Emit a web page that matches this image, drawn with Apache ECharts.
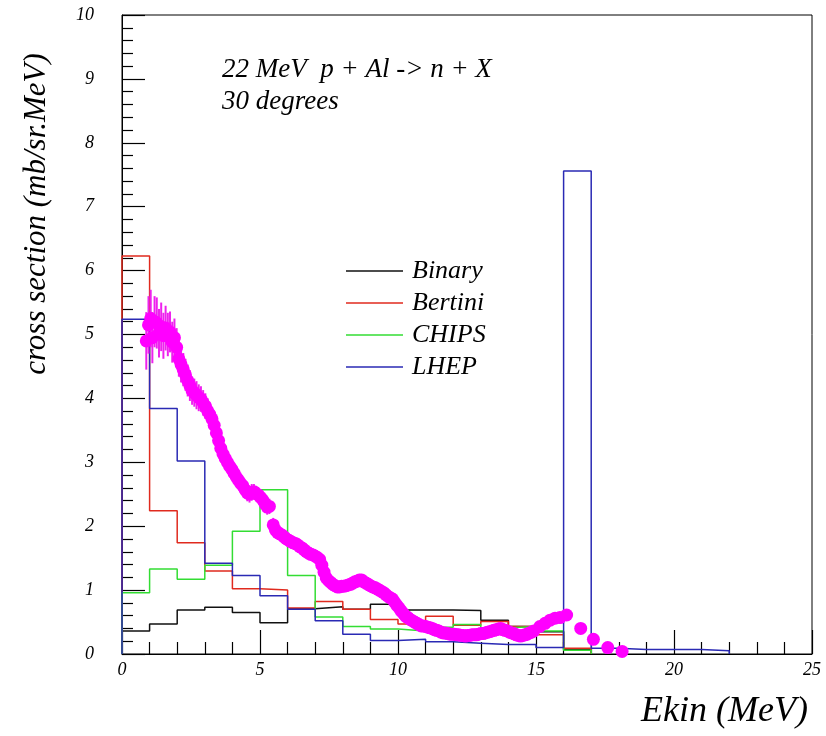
<!DOCTYPE html>
<html>
<head>
<meta charset="utf-8">
<title>22 MeV p + Al -> n + X, 30 degrees</title>
<script src="https://cdn.jsdelivr.net/npm/echarts@6/dist/echarts.min.js"></script>
<style>
  html, body { margin: 0; padding: 0; background: #ffffff; }
  #chart { width: 826px; height: 736px; }
</style>
</head>
<body>
<div id="chart"></div>
<script>
// Model histograms: 1 MeV bins starting at 0 MeV (mb/sr.MeV)
const binWidth = 1;
const binary  = [0.36, 0.47, 0.69, 0.73, 0.65, 0.49, 0.71, 0.74, 0.70, 0.78, 0.69, 0.69, 0.68, 0.53, 0.43, 0.35, 0.07];
const bertini = [6.23, 2.24, 1.74, 1.30, 1.02, 1.00, 0.72, 0.82, 0.70, 0.54, 0.47, 0.59, 0.45, 0.51, 0.43, 0.30, 0.09];
const chips   = [0.96, 1.33, 1.17, 1.39, 1.92, 2.57, 1.23, 0.58, 0.43, 0.39, 0.36, 0.42, 0.46, 0.41, 0.43, 0.36, 0.06];
const lhep    = [5.24, 3.84, 3.02, 1.42, 1.23, 0.91, 0.70, 0.52, 0.31, 0.21, 0.23, 0.19, 0.17, 0.15, 0.15, 0.10, 7.56, 0.09, 0.07, 0.07, 0.07, 0.05];

// Measured spectrum: energy (MeV), cross section, error
const expE = [
  0.88, 0.96, 1.04, 1.10, 1.18, 1.26, 1.34, 1.42, 1.50, 1.58, 1.66, 1.74, 1.82, 1.90, 1.98,
  2.06, 2.14, 2.22, 2.30, 2.38, 2.46, 2.54, 2.62, 2.70, 2.78, 2.86, 2.94,
  3.02, 3.10, 3.18, 3.26, 3.34, 3.42, 3.50, 3.58, 3.66, 3.74, 3.82, 3.90, 3.98,
  4.06, 4.14, 4.22, 4.30, 4.38, 4.46, 4.54, 4.62, 4.70, 4.78, 4.86, 4.94,
  5.02, 5.10, 5.18, 5.26, 5.34, 5.48, 5.56, 5.64, 5.72, 5.80, 5.88, 5.96,
  6.04, 6.12, 6.20, 6.28, 6.36, 6.44, 6.52, 6.60, 6.68, 6.76, 6.84, 6.92,
  7.00, 7.08, 7.16, 7.24, 7.32, 7.40, 7.48, 7.56, 7.64, 7.72, 7.80, 7.88, 7.96,
  8.04, 8.12, 8.20, 8.28, 8.36, 8.44, 8.52, 8.60, 8.68, 8.76, 8.84, 8.92,
  9.00, 9.08, 9.16, 9.24, 9.32, 9.40, 9.48, 9.56, 9.64, 9.72, 9.80, 9.88, 9.96,
  10.04, 10.12, 10.20, 10.28, 10.36, 10.44, 10.52, 10.60, 10.68, 10.76, 10.84, 10.92,
  11.00, 11.08, 11.16, 11.24, 11.32, 11.40, 11.48, 11.56, 11.64, 11.72, 11.80, 11.88, 11.96,
  12.04, 12.12, 12.20, 12.28, 12.36, 12.44, 12.52, 12.60, 12.68, 12.76, 12.84, 12.92,
  13.00, 13.08, 13.16, 13.24, 13.32, 13.40, 13.48, 13.56, 13.64, 13.72, 13.80, 13.88, 13.96,
  14.04, 14.12, 14.20, 14.28, 14.36, 14.44, 14.52, 14.60, 14.68, 14.76, 14.84, 14.92,
  15.14, 15.33, 15.51, 15.69, 15.87, 16.11, 16.62, 17.08, 17.60, 18.12
];
const expY = [
  4.90, 5.15, 5.25, 4.95, 5.20, 5.18, 5.02, 5.12, 4.98, 5.10, 5.00, 5.04, 4.88, 4.95, 4.80,
  4.62, 4.53, 4.45, 4.37, 4.28, 4.20, 4.12, 4.09, 4.05, 4.01, 3.99, 3.93,
  3.88, 3.81, 3.75, 3.68, 3.58, 3.46, 3.34, 3.22, 3.13, 3.06, 3.00, 2.94, 2.89,
  2.83, 2.77, 2.72, 2.67, 2.63, 2.57, 2.52, 2.50, 2.53, 2.54, 2.51, 2.49,
  2.45, 2.41, 2.35, 2.30, 2.31, 2.02, 1.94, 1.90, 1.88, 1.86, 1.83, 1.80,
  1.78, 1.76, 1.74, 1.73, 1.71, 1.68, 1.66, 1.63, 1.60, 1.58, 1.56, 1.55,
  1.53, 1.51, 1.48, 1.39, 1.28, 1.19, 1.15, 1.12, 1.09, 1.07, 1.05, 1.05, 1.06,
  1.06, 1.07, 1.08, 1.09, 1.11, 1.13, 1.14, 1.16, 1.16, 1.13, 1.11, 1.09,
  1.07, 1.05, 1.04, 1.02, 1.00, 0.98, 0.96, 0.93, 0.90, 0.88, 0.86, 0.81, 0.76,
  0.72, 0.67, 0.63, 0.59, 0.57, 0.54, 0.52, 0.50, 0.48, 0.46, 0.44, 0.44,
  0.43, 0.42, 0.41, 0.40, 0.38, 0.37, 0.36, 0.34, 0.33, 0.33, 0.32, 0.31, 0.31,
  0.31, 0.30, 0.30, 0.29, 0.29, 0.28, 0.29, 0.29, 0.30, 0.30, 0.30, 0.31,
  0.32, 0.32, 0.33, 0.34, 0.35, 0.36, 0.37, 0.38, 0.39, 0.40, 0.38, 0.37, 0.36,
  0.34, 0.33, 0.32, 0.30, 0.29, 0.28, 0.29, 0.30, 0.31, 0.33, 0.34, 0.36,
  0.43, 0.48, 0.53, 0.56, 0.57, 0.61, 0.40, 0.23, 0.10, 0.04
];
const expErr = [
  0.45, 0.45, 0.45, 0.40, 0.40, 0.40, 0.38, 0.38, 0.36, 0.35, 0.34, 0.32, 0.32, 0.30, 0.30,
  0.28, 0.28, 0.26, 0.25, 0.25, 0.24, 0.22, 0.22, 0.22, 0.21, 0.20, 0.20,
  0.20, 0.19, 0.19, 0.18, 0.18, 0.17, 0.16, 0.16, 0.16, 0.15, 0.15, 0.15, 0.14,
  0.14, 0.14, 0.14, 0.13, 0.13, 0.13, 0.13, 0.13, 0.13, 0.12, 0.12, 0.12,
  0.12, 0.12, 0.12, 0.12, 0.12, 0.11, 0.11, 0.11, 0.10, 0.10, 0.10, 0.10,
  0.10, 0.10, 0.10, 0.09, 0.09, 0.09, 0.09, 0.09, 0.09, 0.08, 0.08, 0.08,
  0.08, 0.08, 0.08, 0.08, 0.07, 0.07, 0.07, 0.07, 0.07, 0.07, 0.07, 0.07, 0.07,
  0.07, 0.07, 0.07, 0.07, 0.06, 0.06, 0.06, 0.06, 0.06, 0.06, 0.06, 0.06,
  0.06, 0.06, 0.06, 0.06, 0.06, 0.06, 0.05, 0.05, 0.05, 0.05, 0.05, 0.05, 0.05,
  0.05, 0.05, 0.05, 0.05, 0.05, 0.05, 0.05, 0.05, 0.05, 0.05, 0.04, 0.04,
  0.04, 0.04, 0.04, 0.04, 0.04, 0.04, 0.04, 0.04, 0.04, 0.04, 0.04, 0.04, 0.04,
  0.04, 0.04, 0.04, 0.04, 0.04, 0.04, 0.04, 0.04, 0.04, 0.04, 0.04, 0.04,
  0.04, 0.04, 0.04, 0.04, 0.04, 0.04, 0.04, 0.04, 0.04, 0.04, 0.04, 0.04, 0.04,
  0.04, 0.04, 0.04, 0.04, 0.04, 0.04, 0.04, 0.04, 0.04, 0.04, 0.04, 0.04,
  0.04, 0.04, 0.04, 0.04, 0.04, 0.04, 0.04, 0.03, 0.03, 0.02
];

const xTicks = { min: 0, max: 25, step: 5 };
const yTicks = { min: 0, max: 10, step: 1 };

const serif = '"Liberation Serif", "DejaVu Serif", serif';

// Histogram outline: baseline -> each bin top -> back to baseline
function histOutline(values) {
  const pts = [[0, 0]];
  values.forEach((v, i) => {
    pts.push([i * binWidth, v]);
    pts.push([(i + 1) * binWidth, v]);
  });
  pts.push([values.length * binWidth, 0]);
  return pts;
}

function histSeries(name, values, color) {
  return {
    name: name,
    type: 'line',
    data: histOutline(values),
    symbol: 'none',
    showSymbol: false,
    lineStyle: { color: color, width: 1.5 },
    itemStyle: { color: color },
    z: 3
  };
}

const points = expE.map((e, i) => [e, expY[i], expErr[i]]);

const chart = echarts.init(document.getElementById('chart'), null, { renderer: 'canvas' });

chart.setOption({
  animation: false,
  backgroundColor: '#ffffff',
  grid: {
    left: 122, right: 14, top: 15, bottom: 82,
    show: true, borderColor: '#000000', borderWidth: 1
  },
  legend: {
    orient: 'vertical',
    left: 341,
    top: 253,
    icon: 'rect',
    itemWidth: 57,
    itemHeight: 1.5,
    itemGap: 6,
    data: ['Binary', 'Bertini', 'CHIPS', 'LHEP'],
    textStyle: {
      fontFamily: serif, fontStyle: 'italic', fontSize: 26, color: '#000',
      lineHeight: 26, padding: [0, 0, 0, 4]
    }
  },
  xAxis: {
    type: 'value',
    min: xTicks.min, max: xTicks.max, interval: xTicks.step,
    axisLine: { show: true, onZero: false, lineStyle: { color: '#000', width: 1 } },
    axisTick: { show: true, inside: true, length: 24, lineStyle: { color: '#000', width: 1.2 } },
    minorTick: { show: true, splitNumber: 5, length: 12, lineStyle: { color: '#000', width: 1.2 } },
    splitLine: { show: false },
    axisLabel: { fontFamily: serif, fontStyle: 'italic', fontSize: 18, color: '#000', margin: 7 }
  },
  yAxis: {
    type: 'value',
    min: yTicks.min, max: yTicks.max, interval: yTicks.step,
    axisLine: { show: true, onZero: false, lineStyle: { color: '#000', width: 1 } },
    axisTick: { show: true, inside: true, length: 23, lineStyle: { color: '#000', width: 1.2 } },
    minorTick: { show: true, splitNumber: 5, length: 11, lineStyle: { color: '#000', width: 1.2 } },
    splitLine: { show: false },
    axisLabel: { fontFamily: serif, fontStyle: 'italic', fontSize: 18, color: '#000', margin: 28 }
  },
  graphic: [
    {
      type: 'text', x: 37, y: 214, rotation: Math.PI / 2,
      style: {
        text: 'cross section (mb/sr.MeV)', fill: '#000',
        font: 'italic 31px ' + serif, align: 'center', verticalAlign: 'middle'
      }
    },
    {
      type: 'text', x: 808, y: 712,
      style: {
        text: 'Ekin (MeV)', fill: '#000',
        font: 'italic 36px ' + serif, align: 'right', verticalAlign: 'middle'
      }
    },
    {
      type: 'text', x: 222, y: 70,
      style: {
        text: '22 MeV  p + Al -> n + X', fill: '#000',
        font: 'italic 27px ' + serif, align: 'left', verticalAlign: 'middle'
      }
    },
    {
      type: 'text', x: 222, y: 102,
      style: {
        text: '30 degrees', fill: '#000',
        font: 'italic 27px ' + serif, align: 'left', verticalAlign: 'middle'
      }
    }
  ],
  series: [
    histSeries('Binary', binary, '#111111'),
    histSeries('Bertini', bertini, '#e02a1e'),
    histSeries('CHIPS', chips, '#33dd33'),
    histSeries('LHEP', lhep, '#2a2ab4'),
    {
      name: 'errors',
      type: 'custom',
      data: points,
      z: 4,
      renderItem: function (params, api) {
        const x = api.value(0), y = api.value(1), e = api.value(2);
        const lo = api.coord([x, y - e]);
        const hi = api.coord([x, y + e]);
        return {
          type: 'line',
          shape: { x1: lo[0], y1: lo[1], x2: hi[0], y2: hi[1] },
          style: { stroke: '#ee22ee', lineWidth: 2 }
        };
      }
    },
    {
      name: 'data',
      type: 'scatter',
      data: points,
      symbol: 'circle',
      symbolSize: 13,
      itemStyle: { color: '#ff00ff', opacity: 1 },
      z: 5
    }
  ]
});
</script>
</body>
</html>
